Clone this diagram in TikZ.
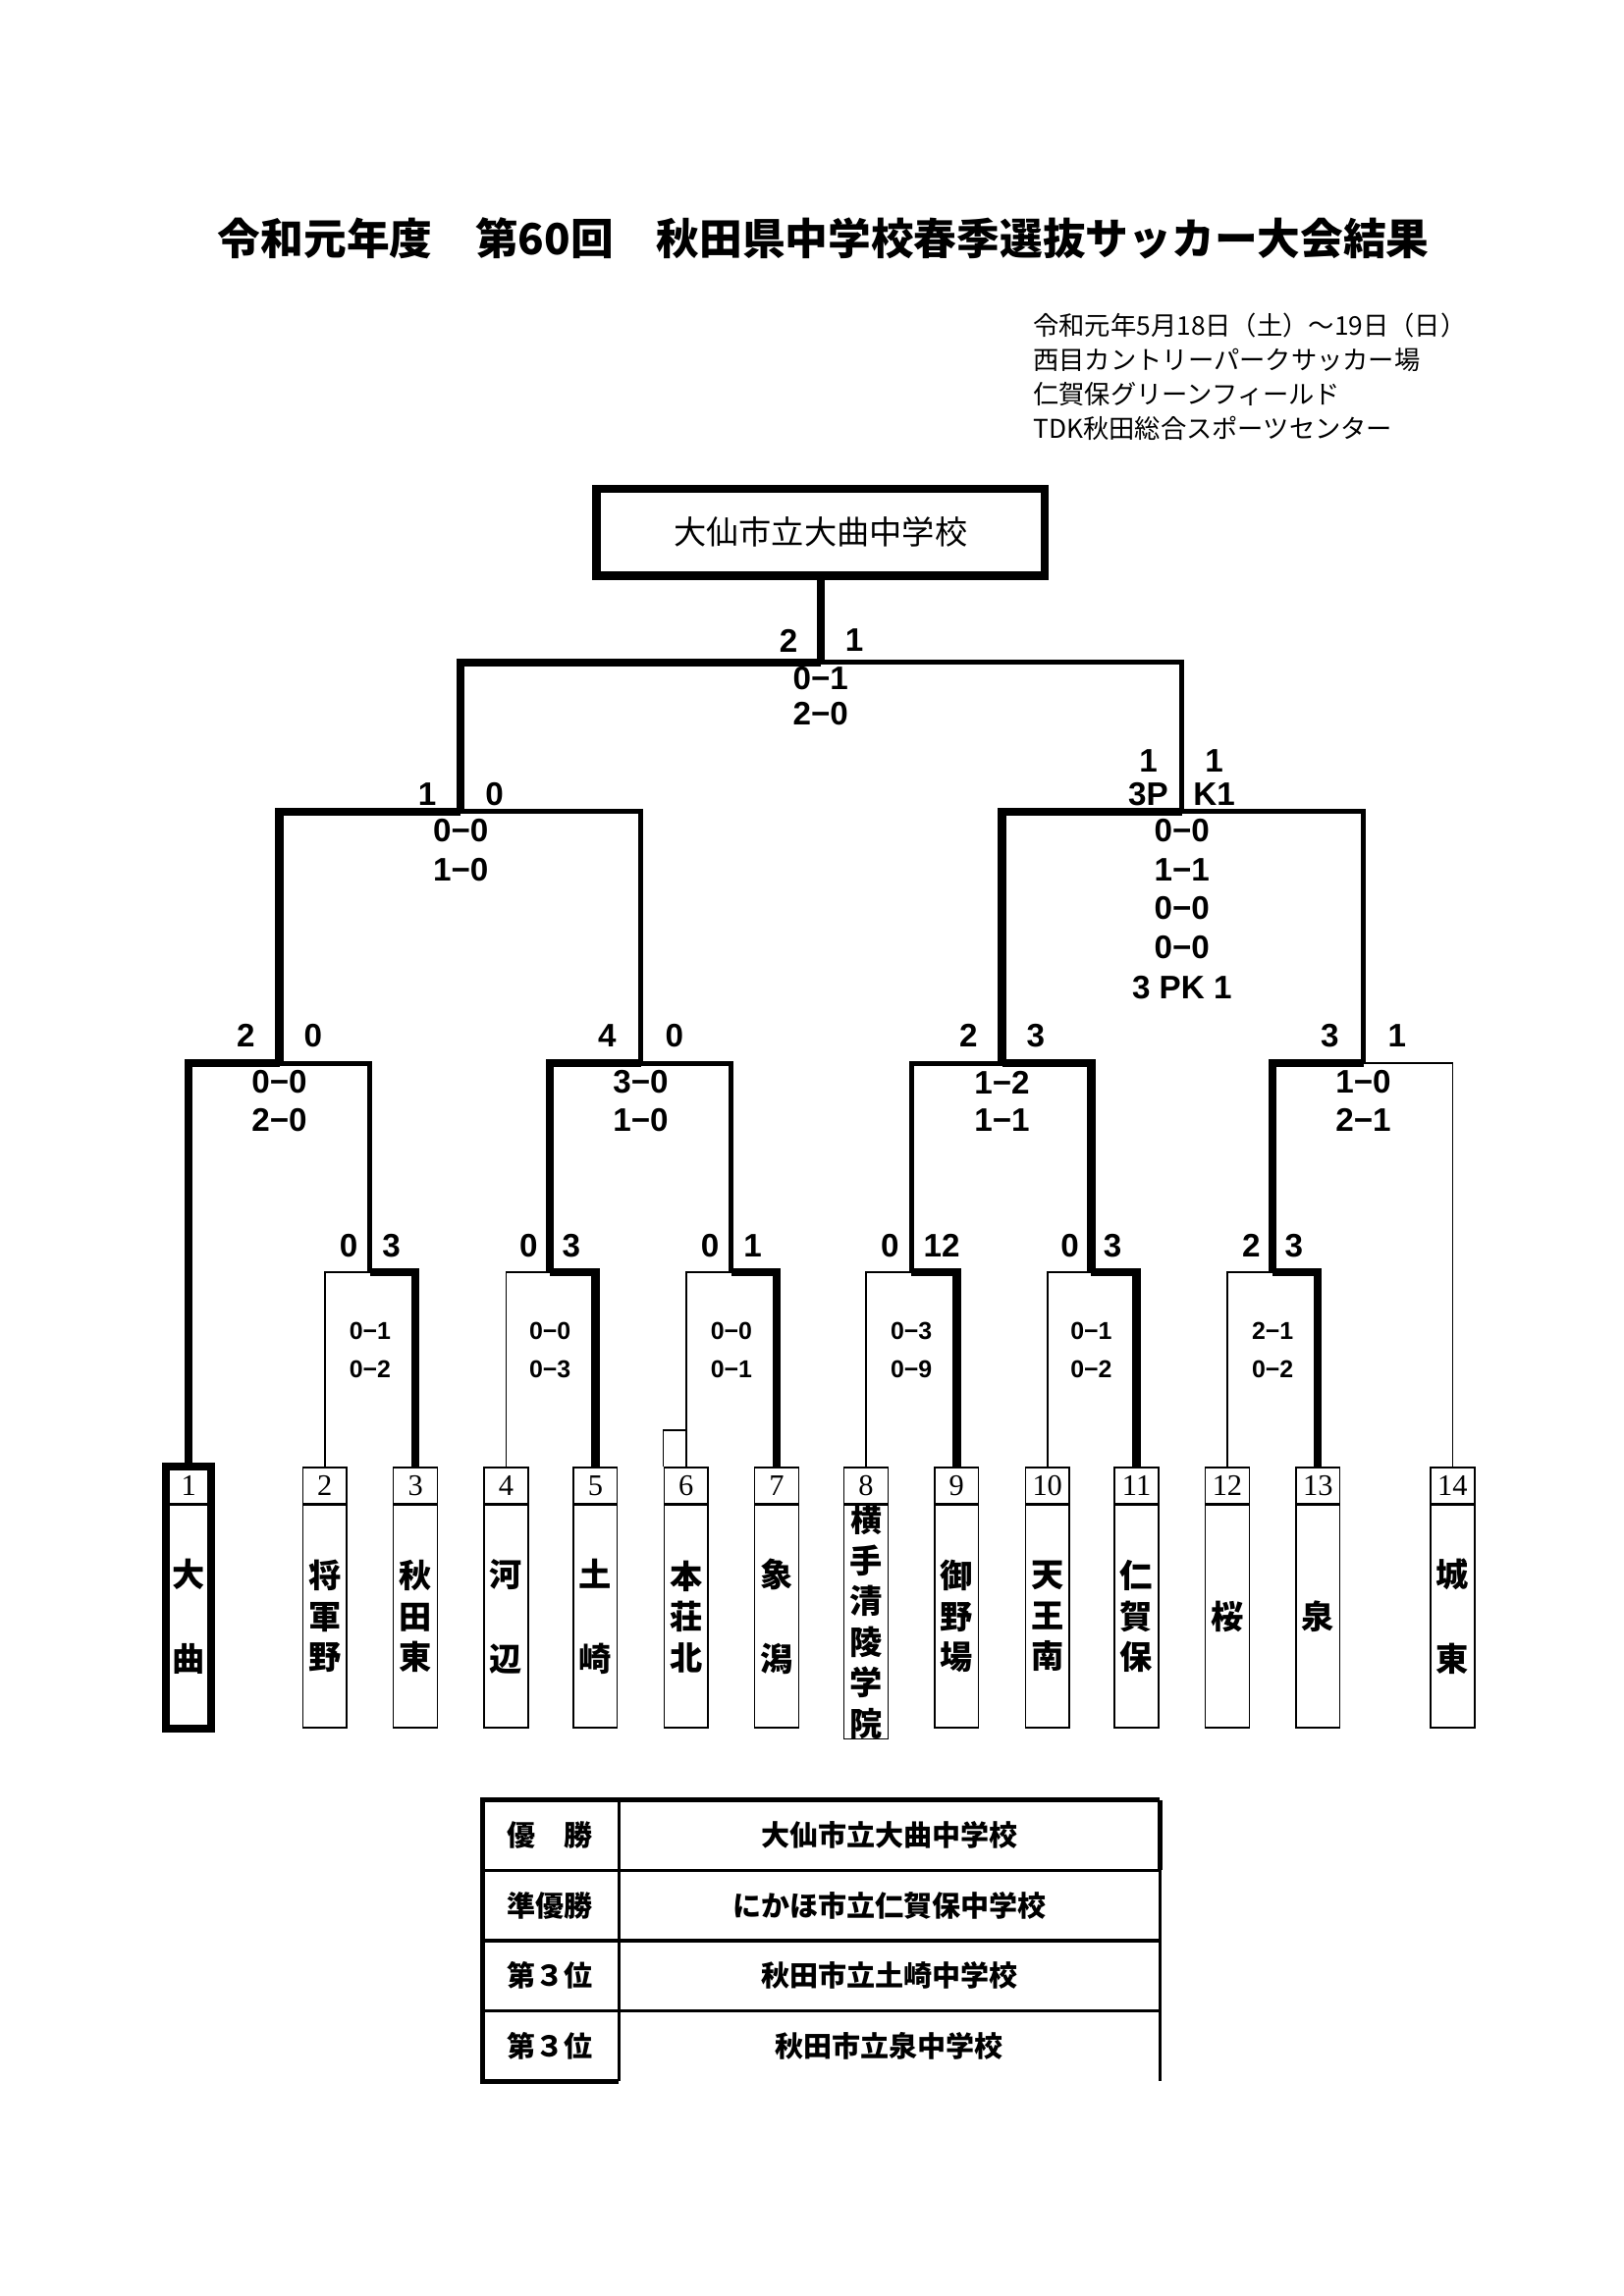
\documentclass[tikz,border=0pt]{standalone}
\usepackage{fontspec}
\setmainfont{Liberation Sans}
\newfontfamily\jp{Noto Sans CJK JP}
\newfontfamily\numfont{Liberation Serif}
\usetikzlibrary{positioning}

\tikzset{
  thin line/.style={line width=0.6pt},
  mid line/.style={line width=1.8pt},
  win line/.style={line width=3pt},
  numbox/.style={draw, line width=0.5pt, minimum width=0.57cm, minimum height=0.47cm,
    inner sep=0pt, anchor=north, font=\numfont\fontsize{11}{11}\selectfont},
  namebox/.style={draw, line width=0.5pt, minimum width=0.57cm, minimum height=2.88cm,
    inner sep=0pt, anchor=north, align=center, font=\jp\bfseries\fontsize{12}{15}\selectfont},
  score/.style={font=\bfseries\fontsize{12}{12}\selectfont, inner sep=0pt},
  game/.style={font=\bfseries\fontsize{9}{9}\selectfont, inner sep=0pt},
  cell/.style={font=\jp\bfseries\fontsize{10.5}{10.5}\selectfont, inner sep=0pt}
}

\begin{document}
\begin{tikzpicture}[x=0.01892cm, y=-0.01892cm]
  \useasboundingbox (0,0) rectangle (1110,1570);

  % Title and dates
  \node[font=\jp\bfseries\fontsize{15.8}{15.8}\selectfont] (title) at (563,163)
    {令和元年度\hspace{1em}第60回\hspace{1em}秋田県中学校春季選抜サッカー大会結果};
  \node[anchor=north west, align=left, inner sep=0pt,
    font=\jp\fontsize{9.5}{12.6}\selectfont] (info) at (706,214)
    {令和元年5月18日（土）～19日（日）\\西目カントリーパークサッカー場\\
     仁賀保グリーンフィールド\\TDK秋田総合スポーツセンター};

  % Champion
  \node[draw, line width=3pt, minimum width=5.8cm, minimum height=1.12cm,
    font=\jp\fontsize{12}{12}\selectfont] (champ) at (561,364) {大仙市立大曲中学校};

  % Teams
  \foreach \i/\x/\name in {1/129/大\\[2.5ex]曲, 2/222/将\\軍\\野, 3/284/秋\\田\\東,
      4/346/河\\[2.5ex]辺, 5/407/土\\[2.5ex]崎, 6/469/本\\荘\\北, 7/531/象\\[2.5ex]潟,
      8/592/{\fontsize{11.5}{13.6}\selectfont 横\\手\\清\\陵\\学\\院}, 9/654/御\\野\\場,
      10/716/天\\王\\南, 11/777/仁\\賀\\保, 12/839/桜, 13/901/泉, 14/993/城\\[2.5ex]東} {
    \node[numbox] (n\i) at (\x,1003) {\i};
    \node[namebox] (t\i) at (n\i.south) {\name};
  }
  \draw[line width=3pt] (n1.north west) rectangle (t1.south east);

  % Round 1 joins
  \foreach \k/\x in {1/253, 2/376, 3/500, 4/623, 5/746, 6/870}
    \coordinate (p\k) at (\x,870);
  \coordinate (qA) at (191,727);
  \coordinate (qB) at (438,727);
  \coordinate (qC) at (685,727);
  \coordinate (qD) at (932,727);
  \coordinate (sL) at (315,555);
  \coordinate (sR) at (808,555);
  \coordinate (fin) at (561,453);

  % Round 1 brackets
  \foreach \a/\b/\k in {2/3/1, 4/5/2, 6/7/3, 8/9/4, 10/11/5, 12/13/6} {
    \draw[thin line] (n\a.north) |- (p\k);
    \draw[win line] (n\b.north) |- (p\k);
  }
  \draw[thin line] (n6.north west) -- ++(0,-25) -| (n6.north);

  % Quarter finals
  \draw[win line] (n1.north) |- (qA);
  \draw[mid line] (p1) |- (qA);
  \draw[win line] (p2) |- (qB);
  \draw[mid line] (p3) |- (qB);
  \draw[mid line] (p4) |- (qC);
  \draw[win line] (p5) |- (qC);
  \draw[win line] (p6) |- (qD);
  \draw[thin line] (n14.north) |- (qD);

  % Semi finals and final
  \draw[win line] (qA) |- (sL);
  \draw[mid line] (qB) |- (sL);
  \draw[win line] (qC) |- (sR);
  \draw[mid line] (qD) |- (sR);
  \draw[win line] (sL) |- (fin);
  \draw[mid line] (sR) |- (fin);
  \draw[win line] (fin) -- (champ.south);

  % Final scores
  \node[score] (f1) at (539,438) {2};
  \node[score] (f2) at (584,438) {1};
  \node[score] (f3) at (561,464) {0−1};
  \node[score] (f4) at (561,488) {2−0};
  \node[score] (s1) at (292,543) {1};
  \node[score] (s2) at (338,543) {0};
  \node[score] (s3) at (315,568) {0−0};
  \node[score] (s4) at (315,595) {1−0};
  \node[score] (s5) at (785,520) {1};
  \node[score] (s6) at (830,520) {1};
  \node[score] (s7) at (785,543) {3P};
  \node[score] (s8) at (830,543) {K1};
  \foreach \s/\y in {0−0/568, 1−1/595, 0−0/621, 0−0/648, 3 PK 1/675}
    \node[score] at (808,\y) {\s};

  % Quarter final scores
  \foreach \c/\l/\r/\g/\h in {191/2/0/0−0/2−0, 438/4/0/3−0/1−0,
      685/2/3/1−2/1−1, 932/3/1/1−0/2−1} {
    \node[score] at (\c-23,708) {\l};
    \node[score] at (\c+23,708) {\r};
    \node[score] at (\c,740) {\g};
    \node[score] at (\c,766) {\h};
  }

  % Round 1 scores
  \foreach \c/\l/\r/\g/\h in {253/0/3/0−1/0−2, 376/0/3/0−0/0−3, 500/0/1/0−0/0−1,
      623/0/12/0−3/0−9, 746/0/3/0−1/0−2, 870/2/3/2−1/0−2} {
    \node[score, anchor=east] at (\c-8,852) {\l};
    \node[score, anchor=west] at (\c+8,852) {\r};
    \node[game] at (\c,910) {\g};
    \node[game] at (\c,936) {\h};
  }

  % Results table
  \foreach \i/\a/\b in {0/優\hspace{1em}勝/大仙市立大曲中学校, 1/準優勝/にかほ市立仁賀保中学校,
      2/第３位/秋田市立土崎中学校, 3/第３位/秋田市立泉中学校} {
    \node[cell] (ra\i) at (376,1255+48*\i) {\a};
    \node[cell] (rb\i) at (608,1255+48*\i) {\b};
  }
  \draw[mid line] (793,1231) -- (330,1231) -- (330,1423) -- (423,1423);
  \draw[mid line] (793,1231) -- (793,1279);
  \draw[line width=1.2pt] (423,1231) -- (423,1423);
  \draw[line width=1.2pt] (793,1279) -- (793,1423);
  \foreach \y in {1279, 1327, 1375}
    \draw[line width=1.2pt] (330,\y) -- (793,\y);
\end{tikzpicture}
\end{document}
